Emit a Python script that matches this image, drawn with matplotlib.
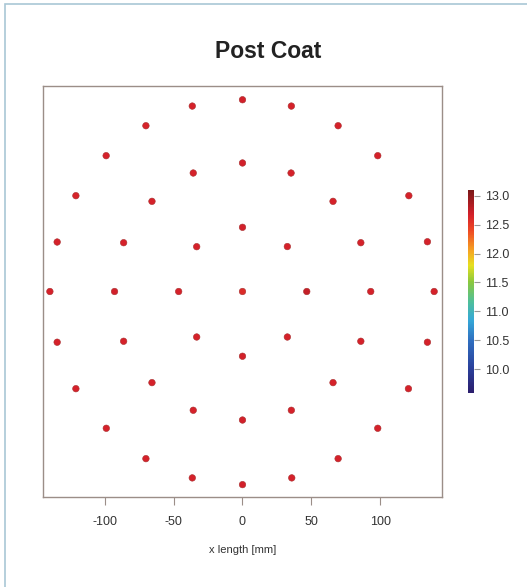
import matplotlib
matplotlib.use("Agg")
import matplotlib.pyplot as plt
from matplotlib.colors import LinearSegmentedColormap
from matplotlib.patches import Rectangle
import numpy as np

plt.rcParams["axes.unicode_minus"] = False

# measurement sites on the wafer, mm
x_mm = [0, -36.5, 35.5, -70.2, 69.5, -99.1, 98.3, 0, -35.8, 35.3, -121.1, 120.9,
        -65.8, 65.8, 0, -134.7, -86.4, -33.3, 32.6, 86.0, 134.4,
        -140.0, -93.0, -46.4, 0, 46.7, 93.2, 139.3,
        -134.7, -86.4, -33.3, 32.6, 86.0, 134.4, 0, -121.1, -65.8, 65.8, 120.6,
        -35.8, 35.5, 0, -99.0, 98.3, -70.2, 69.5, -36.5, 35.8, 0]
y_mm = [139.5, 134.9, 134.9, 120.6, 120.6, 98.8, 98.8, 93.5, 86.2, 86.2, 69.7, 69.7,
        65.6, 65.6, 46.7, 36.0, 35.5, 32.6, 32.7, 35.5, 36.2,
        0, 0, 0, 0, 0, 0, 0,
        -36.9, -36.2, -33.1, -33.1, -36.2, -36.9, -47.1, -70.7, -66.3, -66.3, -70.7,
        -86.4, -86.4, -93.5, -99.5, -99.5, -121.6, -121.6, -135.6, -135.6, -140.5]
# coating thickness at each site
thick = [12.68, 12.66, 12.67, 12.65, 12.66, 12.67, 12.66, 12.68, 12.66, 12.67, 12.65, 12.66,
         12.66, 12.67, 12.68, 12.66, 12.67, 12.66, 12.67, 12.66, 12.66,
         12.66, 12.68, 12.67, 12.60, 12.75, 12.67, 12.66,
         12.66, 12.67, 12.66, 12.67, 12.66, 12.66, 12.68, 12.66, 12.66, 12.67, 12.66,
         12.66, 12.67, 12.68, 12.66, 12.67, 12.66, 12.67, 12.66, 12.67, 12.68]

cbar_ticks = [10.0, 10.5, 11.0, 11.5, 12.0, 12.5, 13.0]
vmin, vmax = 9.58, 13.1

cmap = LinearSegmentedColormap.from_list("thk", [
    (0.00, "#2b1d6b"), (0.12, "#2a3f9a"), (0.26, "#2f6fc0"), (0.36, "#35a8d8"),
    (0.45, "#4fbf9a"), (0.55, "#8cc83c"), (0.63, "#e6e020"), (0.70, "#f5a623"),
    (0.80, "#ee4a24"), (0.88, "#d4202a"), (1.00, "#7a1818")])

fonts = ["Liberation Sans", "DejaVu Sans"]

fig = plt.figure(figsize=(5.27, 5.87), dpi=100)
fig.patch.set_facecolor("white")
fig.patches.append(Rectangle((5 / 527, -0.05), 1.2, 1.05 - 4 / 587, transform=fig.transFigure,
                             fill=False, edgecolor="#a9c7d6", linewidth=1.2, zorder=0))

fig.text(0.508, 0.912, "Post Coat", ha="center", va="center", fontsize=16.5,
         fontweight="bold", color="#222222", family=fonts)

ax = fig.add_axes([43 / 527, 1 - 497 / 587, 399 / 527, 411 / 587])
sc = ax.scatter(x_mm, y_mm, c=thick, cmap=cmap, vmin=vmin, vmax=vmax, s=22,
                edgecolors="#a83030", linewidths=0.4, zorder=3)
ax.set_xlim(-145, 145)
ax.set_ylim(-149.5, 149.5)
ax.set_xticks([-100, -50, 0, 50, 100])
ax.set_yticks([])
for side in ["left", "right", "top", "bottom"]:
    ax.spines[side].set_color("#9b8e88")
    ax.spines[side].set_linewidth(1.0)
ax.tick_params(axis="x", direction="out", length=6, width=0.8, color="#9b8e88",
               labelsize=9, labelcolor="#333333", pad=8)
for lab in ax.get_xticklabels():
    lab.set_family(fonts)
ax.set_xlabel("x length [mm]", fontsize=8, color="#333333", labelpad=12, family=fonts)

cax = fig.add_axes([467.5 / 527, 1 - 393.5 / 587, 6 / 527, 203.5 / 587])
cb = fig.colorbar(sc, cax=cax, ticks=cbar_ticks, format="%.1f")
cb.outline.set_visible(False)
cax.tick_params(length=4, width=0.8, color="#999999", labelsize=9,
                labelcolor="#333333", pad=4)
for lab in cax.get_yticklabels():
    lab.set_family(fonts)

fig.savefig("out.png", dpi=100, facecolor="white")
